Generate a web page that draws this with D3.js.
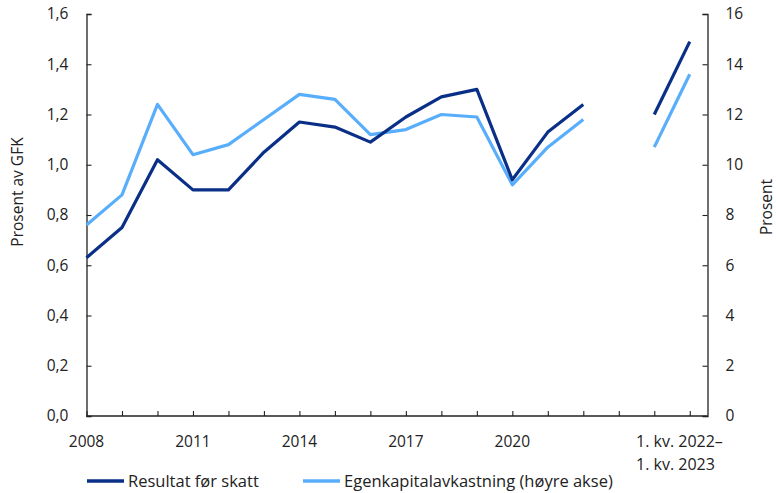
<!DOCTYPE html>
<html>
<head>
<meta charset="utf-8">
<script src="https://cdn.jsdelivr.net/npm/d3@7"></script>
<style>
  body { margin: 0; background: #fff; }
  svg text { font-family: "Open Sans", "Noto Sans", sans-serif; fill: #222; }
</style>
</head>
<body>
<div id="chart"></div>
<script>
// categories: years, then a gap, then two quarters
var years = [2008, 2009, 2010, 2011, 2012, 2013, 2014, 2015, 2016, 2017, 2018, 2019, 2020, 2021, 2022];
var quarters = ["1. kv. 2022", "1. kv. 2023"];

// Resultat før skatt, prosent av GFK (left axis)
var resultat_years = [0.63, 0.75, 1.02, 0.90, 0.90, 1.05, 1.17, 1.15, 1.09, 1.19, 1.27, 1.30, 0.94, 1.13, 1.24];
var resultat_quarters = [1.20, 1.49];

// Egenkapitalavkastning, prosent (right axis)
var ek_years = [7.6, 8.8, 12.4, 10.4, 10.8, 11.8, 12.8, 12.6, 11.2, 11.4, 12.0, 11.9, 9.2, 10.7, 11.8];
var ek_quarters = [10.7, 13.6];

var left_ticks = [0, 0.2, 0.4, 0.6, 0.8, 1.0, 1.2, 1.4, 1.6];
var right_ticks = [0, 2, 4, 6, 8, 10, 12, 14, 16];
var x_labels = [
  { slot: 0, text: "2008" },
  { slot: 3, text: "2011" },
  { slot: 6, text: "2014" },
  { slot: 9, text: "2017" },
  { slot: 12, text: "2020" },
];
var quarter_label = ["1. kv. 2022–", "1. kv. 2023"];

var dark = "#0a2f87";
var light = "#59aefc";

var width = 776, height = 493;
var plotLeft = 86.5, plotRight = 707.5, plotTop = 14, plotBottom = 416;
var fs = "15.5px";

var svg = d3.select("#chart").append("svg")
  .attr("width", width)
  .attr("height", height);

// slots: 15 years, one empty slot, two quarters
var nSlots = years.length + 1 + quarters.length;
var x = d3.scaleLinear().domain([0, nSlots - 0.5]).range([plotLeft, plotRight]);
var yL = d3.scaleLinear().domain([0, 1.6]).range([plotBottom, plotTop]);
var yR = d3.scaleLinear().domain([0, 16]).range([plotBottom, plotTop]);

var fmt = function (d) { return d3.format(".1f")(d).replace(".", ","); };

// left axis
var gL = svg.append("g").attr("transform", "translate(" + plotLeft + ",0)")
  .call(d3.axisLeft(yL).tickValues(left_ticks).tickSize(-5).tickPadding(18).tickFormat(fmt));
// right axis
var gR = svg.append("g").attr("transform", "translate(" + plotRight + ",0)")
  .call(d3.axisRight(yR).tickValues(right_ticks).tickSize(-5).tickPadding(18));
// bottom axis, a tick on every slot
var slots = d3.range(0, nSlots);
var gB = svg.append("g").attr("transform", "translate(0," + plotBottom + ")")
  .call(d3.axisBottom(x).tickValues(slots).tickSize(-5).tickFormat(""));
gB.select(".domain").attr("d", "M" + plotLeft + ",0H" + plotRight);

[gL, gR, gB].forEach(function (g) {
  g.select(".domain").attr("stroke", "#222").attr("stroke-width", 1.3);
  g.selectAll(".tick line").attr("stroke", "#222").attr("stroke-width", 1.1);
  g.selectAll(".tick text").style("font-size", fs).attr("fill", "#222")
    .attr("font-family", null);
});
gL.selectAll(".tick text").attr("x", -18);

// x labels
x_labels.forEach(function (l) {
  svg.append("text")
    .attr("x", x(l.slot))
    .attr("y", plotBottom + 31)
    .attr("text-anchor", "middle")
    .style("font-size", fs)
    .text(l.text);
});
var q0 = years.length + 1;
quarter_label.forEach(function (t, i) {
  svg.append("text")
    .attr("x", 636)
    .attr("y", plotBottom + 31 + i * 23)
    .style("font-size", "16px")
    .text(t);
});

// axis titles
svg.append("text")
  .attr("transform", "translate(23,192) rotate(-90)")
  .attr("text-anchor", "middle")
  .style("font-size", fs)
  .text("Prosent av GFK");
svg.append("text")
  .attr("transform", "translate(772,207) rotate(-90)")
  .attr("text-anchor", "middle")
  .style("font-size", fs)
  .text("Prosent");

// lines
function toPoints(vals, start) {
  return vals.map(function (v, i) { return { slot: start + i, v: v }; });
}
var lineL = d3.line().x(function (d) { return x(d.slot); }).y(function (d) { return yL(d.v); });
var lineR = d3.line().x(function (d) { return x(d.slot); }).y(function (d) { return yR(d.v); });

var series = [
  { data: toPoints(ek_years, 0), line: lineR, color: light },
  { data: toPoints(ek_quarters, q0), line: lineR, color: light },
  { data: toPoints(resultat_years, 0), line: lineL, color: dark },
  { data: toPoints(resultat_quarters, q0), line: lineL, color: dark },
];
series.forEach(function (s) {
  svg.append("path")
    .datum(s.data)
    .attr("fill", "none")
    .attr("stroke", s.color)
    .attr("stroke-width", 3.2)
    .attr("stroke-linejoin", "round")
    .attr("d", s.line);
});

// legend
var legend = [
  { name: "Resultat før skatt", color: dark, x: 87 },
  { name: "Egenkapitalavkastning (høyre akse)", color: light, x: 303 },
];
legend.forEach(function (l) {
  svg.append("line")
    .attr("x1", l.x).attr("x2", l.x + 37)
    .attr("y1", 481).attr("y2", 481)
    .attr("stroke", l.color).attr("stroke-width", 3.5);
  svg.append("text")
    .attr("x", l.x + 41)
    .attr("y", 487)
    .style("font-size", "16.5px")
    .text(l.name);
});
</script>
</body>
</html>
